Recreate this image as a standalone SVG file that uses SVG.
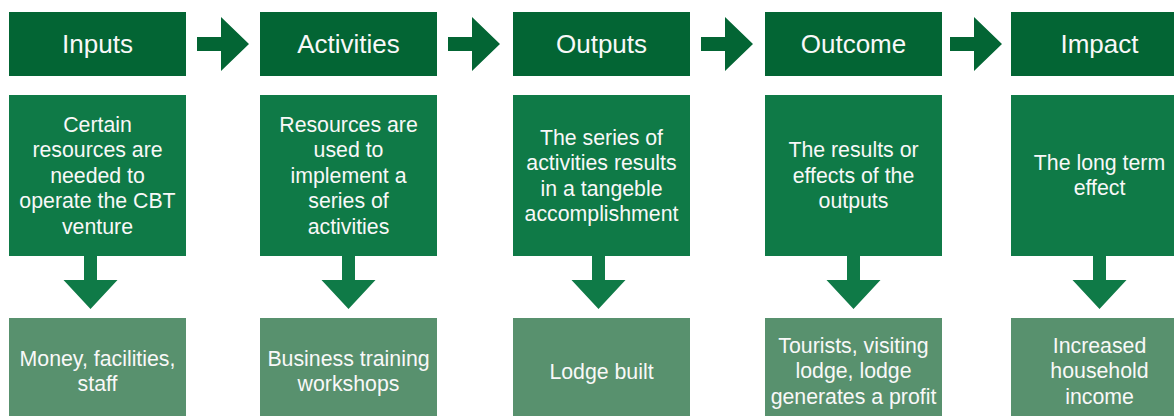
<svg xmlns="http://www.w3.org/2000/svg" width="1174" height="416" viewBox="0 0 1174 416">
<style>
.h{fill:#036534}
.m{fill:#0f7a47}
.b{fill:#58916e}
.arr{fill:#036534}
.darr{fill:#0f7a47}
text{font-family:"Liberation Sans",Arial,sans-serif;fill:#f8f8f8;text-anchor:middle}
.ht{font-size:26px}
.mt{font-size:21.3px}
</style>
<defs>
<path id="ra" d="M0,-7 H24 V-27 L52,0 L24,27 V7 H0 Z"/>
<path id="da" d="M-6.5,0 H6.5 V24 H27 L0,53 L-27,24 H-6.5 Z"/>
</defs>
<rect width="1174" height="416" fill="#ffffff"/>
<g id="connectors">
<use href="#ra" class="arr" x="197" y="44"/>
<use href="#ra" class="arr" x="448" y="44"/>
<use href="#ra" class="arr" x="701" y="44"/>
<use href="#ra" class="arr" x="950" y="44"/>
<use href="#da" class="darr" x="90.5" y="256"/>
<use href="#da" class="darr" x="348.5" y="256"/>
<use href="#da" class="darr" x="598.5" y="256"/>
<use href="#da" class="darr" x="853.5" y="256"/>
<use href="#da" class="darr" x="1099.5" y="256"/>
</g>
<g id="inputs">
<rect class="h" x="9" y="12" width="177" height="64"/>
<text class="ht" x="97.5" y="53">Inputs</text>
<rect class="m" x="9" y="95" width="177" height="161"/>
<text class="mt"><tspan x="97.5" y="131.5">Certain</tspan><tspan x="97.5" y="157">resources are</tspan><tspan x="97.5" y="182.5">needed to</tspan><tspan x="97.5" y="208">operate the CBT</tspan><tspan x="97.5" y="233.5">venture</tspan></text>
<rect class="b" x="9" y="318" width="177" height="108"/>
<text class="mt"><tspan x="97.5" y="365.5">Money, facilities,</tspan><tspan x="97.5" y="391">staff</tspan></text>
</g>
<g id="activities">
<rect class="h" x="260" y="12" width="177" height="64"/>
<text class="ht" x="348.5" y="53">Activities</text>
<rect class="m" x="260" y="95" width="177" height="161"/>
<text class="mt"><tspan x="348.5" y="131.5">Resources are</tspan><tspan x="348.5" y="157">used to</tspan><tspan x="348.5" y="182.5">implement a</tspan><tspan x="348.5" y="208">series of</tspan><tspan x="348.5" y="233.5">activities</tspan></text>
<rect class="b" x="260" y="318" width="177" height="108"/>
<text class="mt"><tspan x="348.5" y="365.5">Business training</tspan><tspan x="348.5" y="391">workshops</tspan></text>
</g>
<g id="outputs">
<rect class="h" x="513" y="12" width="177" height="64"/>
<text class="ht" x="601.5" y="53">Outputs</text>
<rect class="m" x="513" y="95" width="177" height="161"/>
<text class="mt"><tspan x="601.5" y="144.5">The series of</tspan><tspan x="601.5" y="170">activities results</tspan><tspan x="601.5" y="195.5">in a tangeble</tspan><tspan x="601.5" y="221">accomplishment</tspan></text>
<rect class="b" x="513" y="318" width="177" height="108"/>
<text class="mt" x="601.5" y="378.5">Lodge built</text>
</g>
<g id="outcome">
<rect class="h" x="765" y="12" width="177" height="64"/>
<text class="ht" x="853.5" y="53">Outcome</text>
<rect class="m" x="765" y="95" width="177" height="161"/>
<text class="mt"><tspan x="853.5" y="157">The results or</tspan><tspan x="853.5" y="182.5">effects of the</tspan><tspan x="853.5" y="208">outputs</tspan></text>
<rect class="b" x="765" y="318" width="177" height="108"/>
<text class="mt"><tspan x="853.5" y="352.5">Tourists, visiting</tspan><tspan x="853.5" y="378">lodge, lodge</tspan><tspan x="853.5" y="403.5">generates a profit</tspan></text>
</g>
<g id="impact">
<rect class="h" x="1011" y="12" width="177" height="64"/>
<text class="ht" x="1099.5" y="53">Impact</text>
<rect class="m" x="1011" y="95" width="177" height="161"/>
<text class="mt"><tspan x="1099.5" y="169.5">The long term</tspan><tspan x="1099.5" y="195">effect</tspan></text>
<rect class="b" x="1011" y="318" width="177" height="108"/>
<text class="mt"><tspan x="1099.5" y="352.5">Increased</tspan><tspan x="1099.5" y="378">household</tspan><tspan x="1099.5" y="403.5">income</tspan></text>
</g>
</svg>
